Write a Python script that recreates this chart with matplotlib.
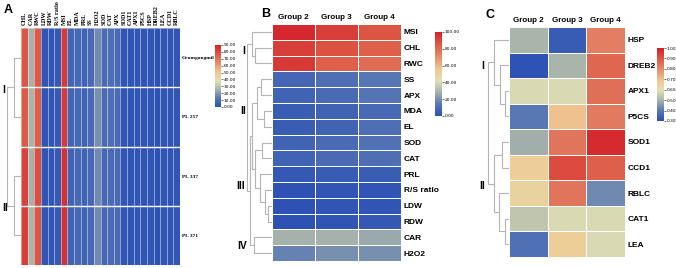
import matplotlib
matplotlib.use("Agg")
import matplotlib.pyplot as plt
from matplotlib.colors import LinearSegmentedColormap
import numpy as np

# ---- data -------------------------------------------------------------
a_rows = ['Geumgangmil', 'PL 257', 'PL 337', 'PL 371']
a_cols = ['CHL', 'CAR', 'RWC', 'LDW', 'RDW', 'R/S ratio', 'MSI', 'EL', 'MDA', 'PRL',
          'SS', 'H2O2', 'SOD', 'CAT', 'APX', 'SOD1', 'CAT1', 'APX1', 'P5CS', 'HSP',
          'DREB2', 'LEA', 'CCD1', 'RBLC']
a_vals = [
    [77, 25, 76, 2, 2, 3, 84, 7, 8, 6, 9, 17, 9, 10, 9, 2, 2, 2, 2, 2, 1, 2, 2, 2],
    [76, 26, 75, 2, 2, 3, 84, 7, 8, 6, 9, 18, 9, 10, 9, 2, 2, 2, 2, 2, 1, 2, 2, 2],
    [82, 25, 79, 2, 2, 3, 86, 6, 8, 6, 8, 17, 8, 9, 9, 2, 2, 2, 2, 2, 1, 2, 2, 2],
    [83, 26, 78, 2, 2, 3, 86, 6, 8, 6, 8, 17, 8, 9, 9, 2, 2, 2, 2, 2, 1, 2, 2, 2],
]
a_tree = [(0, 1, 4.9), (2, 3, 4.9), (4, 5, 10.0)]
a_clusters = ['I', 'II']

groups = ['Group 2', 'Group 3', 'Group 4']

b_rows = ['MSI', 'CHL', 'RWC', 'SS', 'APX', 'MDA', 'EL', 'SOD', 'CAT', 'PRL',
          'R/S ratio', 'LDW', 'RDW', 'CAR', 'H2O2']
b_vals = [
    [98, 92, 86], [92, 87, 83], [93, 83, 80], [8, 11, 14], [7, 10, 13],
    [5, 7, 9], [5, 7, 11], [7, 10, 12], [7, 10, 11], [3, 4, 5],
    [1, 2, 2], [1, 2, 2], [1, 2, 3], [28, 28, 26], [17, 20, 20],
]
b_tree = [(1, 2, 6.8), (0, 15, 8.0), (3, 4, 4.4), (5, 6, 3.2), (17, 18, 6.0),
          (7, 8, 4.0), (11, 12, 1.8), (10, 21, 2.8), (9, 22, 4.8), (20, 23, 6.8),
          (19, 24, 8.0), (13, 14, 7.2), (25, 26, 8.8), (16, 27, 10.0)]

c_rows = ['HSP', 'DREB2', 'APX1', 'P5CS', 'SOD1', 'CCD1', 'RBLC', 'CAT1', 'LEA']
c_vals = [
    [0.50, 0.33, 0.82], [0.31, 0.50, 0.87], [0.58, 0.58, 0.85],
    [0.40, 0.70, 0.83], [0.49, 0.84, 0.98], [0.67, 0.92, 0.88],
    [0.65, 0.84, 0.43], [0.54, 0.58, 0.58], [0.38, 0.67, 0.58],
]
c_tree = [(2, 3, 1.9), (1, 9, 4.3), (0, 10, 7.1), (4, 5, 3.5), (7, 8, 1.9),
          (6, 13, 4.8), (12, 14, 7.1), (11, 15, 10.0)]

# ---- style ------------------------------------------------------------
cmap = LinearSegmentedColormap.from_list('heat', [
    (0.0, '#2b50b4'), (0.15, '#5b7ab4'), (0.28, '#a6b2aa'), (0.42, '#e2dfb4'),
    (0.55, '#efca93'), (0.72, '#e4876a'), (0.85, '#dd5a45'), (1.0, '#d3212a')])

W, H = 676, 268
fig = plt.figure(figsize=(W / 100, H / 100), dpi=100)
SANS = ['Liberation Sans', 'DejaVu Sans']
SERIF = ['Liberation Serif', 'DejaVu Serif']


def px_axes(x0, y0, x1, y1):
    return fig.add_axes([x0 / W, 1 - y1 / H, (x1 - x0) / W, (y1 - y0) / H])


def px_text(x, y, s, **kw):
    fig.text(x / W, 1 - y / H, s, **kw)


def heatmap(box, vals, vmin, vmax, edge):
    ax = px_axes(*box)
    m = ax.pcolormesh(np.array(vals), cmap=cmap, vmin=vmin, vmax=vmax,
                      edgecolors=edge, linewidth=0.7)
    ax.invert_yaxis()
    for s in ax.spines.values():
        s.set_visible(False)
    ax.tick_params(length=0, pad=2)
    return ax, m


def dendrogram(box, tree, n, span):
    ax = px_axes(*box)
    pos = {i: (0.0, i + 0.5) for i in range(n)}
    for k, (a, b, h) in enumerate(tree):
        (ha, ya), (hb, yb) = pos[a], pos[b]
        ax.plot([ha, h, h, hb], [ya, ya, yb, yb], color='#b4b4b4', lw=0.8,
                solid_joinstyle='miter')
        pos[n + k] = (h, (ya + yb) / 2)
    ax.set_xlim(span, 0)
    ax.set_ylim(n, 0)
    ax.axis('off')
    return ax


def colorbar(m, box, ticks):
    cax = px_axes(*box)
    cb = fig.colorbar(m, cax=cax, ticks=ticks, format='%.2f')
    cb.outline.set_visible(False)
    cax.tick_params(labelsize=3.2, length=1.2, width=0.4, pad=0.8)


# ---- panel A ----------------------------------------------------------
ax, m = heatmap((21, 28, 180, 265), a_vals, 0, 90, (1, 1, 1, 0.45))
for r in range(1, len(a_rows)):
    ax.axhline(r, color='white', lw=1.0)
ax.xaxis.tick_top()
ax.set_xticks(np.arange(len(a_cols)) + 0.5)
ax.set_xticklabels(a_cols, rotation=90, fontsize=4.4, family=SERIF, fontweight='bold')
ax.yaxis.tick_right()
ax.set_yticks(np.arange(len(a_rows)) + 0.5)
ax.set_yticklabels(a_rows, fontsize=3.9, family=SERIF, fontweight='bold')
ax.tick_params(axis='y', pad=1.5)
dendrogram((3, 28, 21, 265), a_tree, len(a_rows), 12.9)
colorbar(m, (215, 45, 221, 107), np.arange(0, 91, 10))
px_text(4, 13, 'A', fontsize=9, fontweight='bold', family=SANS)
px_text(2, 93, a_clusters[0], fontsize=7.5, fontweight='bold', family=SANS)
px_text(2, 211, a_clusters[1], fontsize=7.5, fontweight='bold', family=SANS)

# ---- panel B ----------------------------------------------------------
ax, m = heatmap((272, 24, 401, 261), b_vals, 0, 100, 'white')
ax.xaxis.tick_top()
ax.set_xticks(np.arange(len(groups)) + 0.5)
ax.set_xticklabels(groups, fontsize=5.8, family=SANS, fontweight='bold')
ax.yaxis.tick_right()
ax.set_yticks(np.arange(len(b_rows)) + 0.5)
ax.set_yticklabels(b_rows, fontsize=6.0, family=SANS, fontweight='bold')
dendrogram((240, 24, 272, 261), b_tree, len(b_rows), 12.8)
colorbar(m, (435, 32, 442, 116), np.arange(0, 101, 20))
px_text(261, 17, 'B', fontsize=9, fontweight='bold', family=SANS)
for lab, x, y in [('I', 242, 54), ('II', 240, 114), ('III', 236, 189), ('IV', 237, 249)]:
    px_text(x, y, lab, fontsize=7.5, fontweight='bold', family=SANS)

# ---- panel C ----------------------------------------------------------
ax, m = heatmap((509, 27, 625, 257), c_vals, 0.3, 1.0, 'white')
ax.xaxis.tick_top()
ax.set_xticks(np.arange(len(groups)) + 0.5)
ax.set_xticklabels(groups, fontsize=5.8, family=SANS, fontweight='bold')
ax.yaxis.tick_right()
ax.set_yticks(np.arange(len(c_rows)) + 0.5)
ax.set_yticklabels(c_rows, fontsize=6.0, family=SANS, fontweight='bold')
dendrogram((480, 27, 509, 257), c_tree, len(c_rows), 13.8)
colorbar(m, (657, 48, 664, 121), np.round(np.arange(0.3, 1.01, 0.1), 2))
px_text(486, 18, 'C', fontsize=9, fontweight='bold', family=SANS)
px_text(481, 69, 'I', fontsize=7.5, fontweight='bold', family=SANS)
px_text(479, 189, 'II', fontsize=7.5, fontweight='bold', family=SANS)

fig.savefig('out.png', dpi=100)
